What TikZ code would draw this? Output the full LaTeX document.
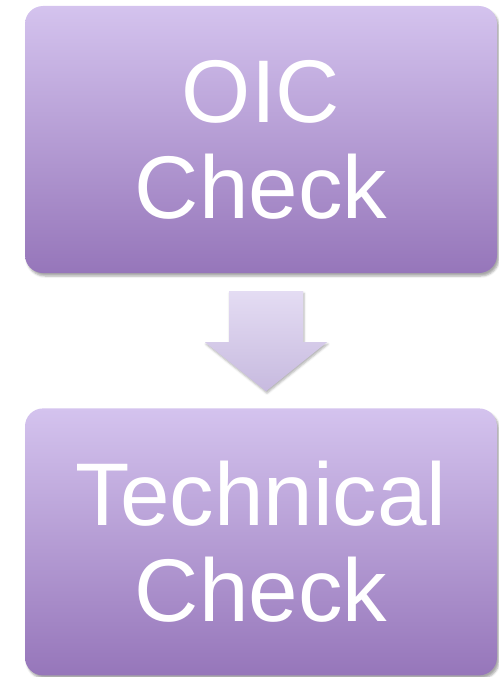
\documentclass[tikz,border=0pt]{standalone}
\usepackage{fontspec}
\setmainfont{Liberation Sans}
\usetikzlibrary{calc}
\usetikzlibrary{positioning}
\usetikzlibrary{shadows.blur}

\definecolor{boxtop}{HTML}{D4C3EE}
\definecolor{boxbottom}{HTML}{9676BA}
\definecolor{arrowtop}{HTML}{E4DCF3}
\definecolor{arrowbottom}{HTML}{C7BADF}

\tikzset{
  stage/.style={rectangle, rounded corners=18pt, minimum width=472pt,
    minimum height=267pt, top color=boxtop, bottom color=boxbottom,
    text=white, align=center, font=\fontsize{89}{96}\selectfont,
    blur shadow={shadow xshift=2pt, shadow yshift=-3pt, shadow opacity=35}},
  flow/.style={top color=arrowtop, bottom color=arrowbottom,
    blur shadow={shadow xshift=1pt, shadow yshift=-2pt, shadow opacity=30}}
}

\begin{document}
\begin{tikzpicture}[x=1pt,y=-1pt]

  \useasboundingbox (0,0) rectangle (498,677);

  \node [stage] (oic) at (261,139.5) {OIC\\Check};
  \node [stage, below=135pt of oic] (tech) {Technical\\Check};

  \coordinate (tip) at ($(tech.north)+(5,-17)$);
  \shade [flow] (tip) -- ++(-61,-49) -- ++(24,0) -- ++(0,-51)
    -- ++(74,0) -- ++(0,51) -- ++(24,0) -- cycle;
\end{tikzpicture}
\end{document}
